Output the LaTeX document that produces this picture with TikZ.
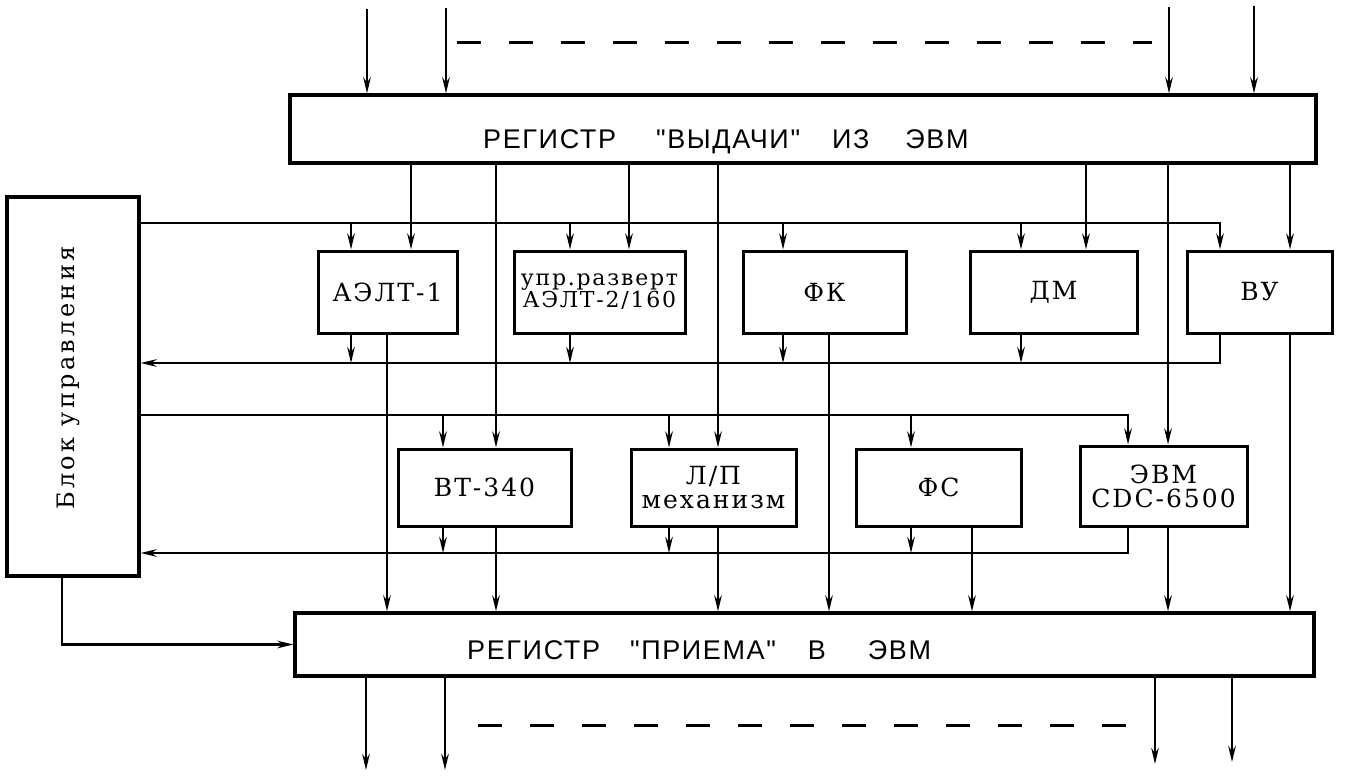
\documentclass[tikz,border=0pt]{standalone}
\usepackage{fontspec}
\setmainfont{DejaVu Serif}
\newfontfamily\regfont[LetterSpace=6]{Liberation Sans}
\newfontfamily\lblfont[LetterSpace=8]{DejaVu Serif}
\newfontfamily\blkfont[LetterSpace=14]{DejaVu Serif}
\usetikzlibrary{arrows.meta}
\begin{document}
\begin{tikzpicture}[x=1pt,y=-1pt,
  ln/.style={line width=2.5pt},
  arr/.style={line width=2.5pt,-{Stealth[length=16pt,width=7.5pt]}},
  box/.style={draw,line width=3pt,inner sep=0pt,align=center,
    font=\lblfont\fontsize{25}{24}\selectfont},
  reg/.style={draw,line width=3.2pt,inner sep=0pt},
  regtext/.style={anchor=base west,inner sep=0pt,font=\regfont\fontsize{27}{27}\selectfont},
  dsh/.style={line width=3pt,dash pattern=on 24pt off 28pt},
]
\useasboundingbox (0,0) rectangle (1348,776);

% registers and control block
\node[reg,minimum width=1026pt,minimum height=68pt] (rt) at (803,129) {};
\node[regtext] (rtT) at (483,148) {РЕГИСТР\hspace{40pt}"ВЫДАЧИ"\hspace{32pt}ИЗ\hspace{36pt}ЭВМ};
\node[reg,minimum width=1019pt,minimum height=63pt] (rb) at (804.5,644.5) {};
\node[regtext] (rbT) at (467,659) {РЕГИСТР\hspace{30pt}"ПРИЕМА"\hspace{32pt}В\hspace{42pt}ЭВМ};
\node[reg,minimum width=132pt,minimum height=379pt] (blk) at (73,386.5) {};
\node[rotate=90,inner sep=0pt,font=\blkfont\fontsize{24}{24}\selectfont] (blkT) at (68,378) {Блок управления};

% row 1
\node[box,minimum width=139pt,minimum height=82pt] (a1) at (387.5,292) {АЭЛТ-1};
\node[box,minimum width=171pt,minimum height=82pt,font=\lblfont\fontsize{22}{22}\selectfont] (a2) at (599.5,292) {упр.разверт\\АЭЛТ-2/160};
\node[box,minimum width=163pt,minimum height=82pt] (fk) at (824.5,292) {ФК};
\node[box,minimum width=167pt,minimum height=82pt] (dm) at (1053.5,292) {ДМ};
\node[box,minimum width=145pt,minimum height=82pt] (vu) at (1259.5,292) {ВУ};
% row 2
\node[box,minimum width=173pt,minimum height=77pt] (bt) at (484.5,487.5) {ВТ-340};
\node[box,minimum width=165pt,minimum height=77pt] (lp) at (713.5,487.5) {Л/П\\механизм};
\node[box,minimum width=165pt,minimum height=77pt] (fs) at (938.5,487.5) {ФС};
\node[box,minimum width=167pt,minimum height=80pt] (ev) at (1163.5,486) {ЭВМ\\CDC-6500};

% reference coordinates
\coordinate (d1) at (411,0); \coordinate (d2) at (496,0); \coordinate (d3) at (629,0);
\coordinate (d4) at (718,0); \coordinate (d5) at (1086,0); \coordinate (d6) at (1168,0);
\coordinate (d7) at (1290,0);
\coordinate (o1) at (387,0); \coordinate (o4) at (829,0); \coordinate (o5) at (972,0);
\coordinate (k1) at (351,0); \coordinate (k2) at (570,0); \coordinate (k3) at (783,0);
\coordinate (k4) at (1021,0); \coordinate (k5) at (1220,0);
\coordinate (m1) at (443,0); \coordinate (m2) at (669,0); \coordinate (m3) at (911,0);
\coordinate (m4) at (1128,0);
\coordinate (yc1) at (0,223); \coordinate (yr1) at (0,363);
\coordinate (yc2) at (0,415); \coordinate (yr2) at (0,553);
\coordinate (bx) at (62,0);
\coordinate (in1) at (367,9); \coordinate (in2) at (446,8);
\coordinate (in3) at (1169,7); \coordinate (in4) at (1254,6);
\coordinate (ou1) at (366,770); \coordinate (ou2) at (445,770);
\coordinate (ou3) at (1155,764); \coordinate (ou4) at (1232,762);
\coordinate (ds1) at (457,43); \coordinate (ds2) at (1152,43);
\coordinate (ds3) at (478,725); \coordinate (ds4) at (1134,725);

% inputs / outputs of the registers
\foreach \p in {in1,in2,in3,in4} \draw[arr] (\p) -- (rt.north -| \p);
\foreach \p in {ou1,ou2,ou3,ou4} \draw[arr] (rb.south -| \p) -- (\p);
\draw[dsh] (ds1) -- (ds2);
\draw[dsh] (ds3) -- (ds4);

% data lines from the output register
\draw[arr] (rt.south -| d1) -- (a1.north -| d1);
\draw[arr] (rt.south -| d3) -- (a2.north -| d3);
\draw[arr] (rt.south -| d5) -- (dm.north -| d5);
\draw[arr] (rt.south -| d7) -- (vu.north -| d7);
\draw[arr] (rt.south -| d2) -- (bt.north -| d2);
\draw[arr] (rt.south -| d4) -- (lp.north -| d4);
\draw[arr] (rt.south -| d6) -- (ev.north -| d6);

% data lines into the input register
\draw[arr] (a1.south -| o1) -- (rb.north -| o1);
\draw[arr] (bt.south -| d2) -- (rb.north -| d2);
\draw[arr] (lp.south -| d4) -- (rb.north -| d4);
\draw[arr] (fk.south -| o4) -- (rb.north -| o4);
\draw[arr] (fs.south -| o5) -- (rb.north -| o5);
\draw[arr] (ev.south -| d6) -- (rb.north -| d6);
\draw[arr] (vu.south -| d7) -- (rb.north -| d7);

% control buses, row 1
\draw[arr] (blk.east |- yc1) -| (vu.north -| k5);
\draw[arr] (vu.south -| k5) |- (blk.east |- yr1);
\foreach \k/\b in {k1/a1,k2/a2,k3/fk,k4/dm}{
  \draw[arr] (\k |- yc1) -- (\b.north -| \k);
  \draw[arr] (\b.south -| \k) -- (\k |- yr1);
}
% control buses, row 2
\draw[arr] (blk.east |- yc2) -| (ev.north -| m4);
\draw[arr] (ev.south -| m4) |- (blk.east |- yr2);
\foreach \k/\b in {m1/bt,m2/lp,m3/fs}{
  \draw[arr] (\k |- yc2) -- (\b.north -| \k);
  \draw[arr] (\b.south -| \k) -- (\k |- yr2);
}
% control block to input register
\draw[arr] (blk.south -| bx) |- (rb.west);
\end{tikzpicture}
\end{document}
